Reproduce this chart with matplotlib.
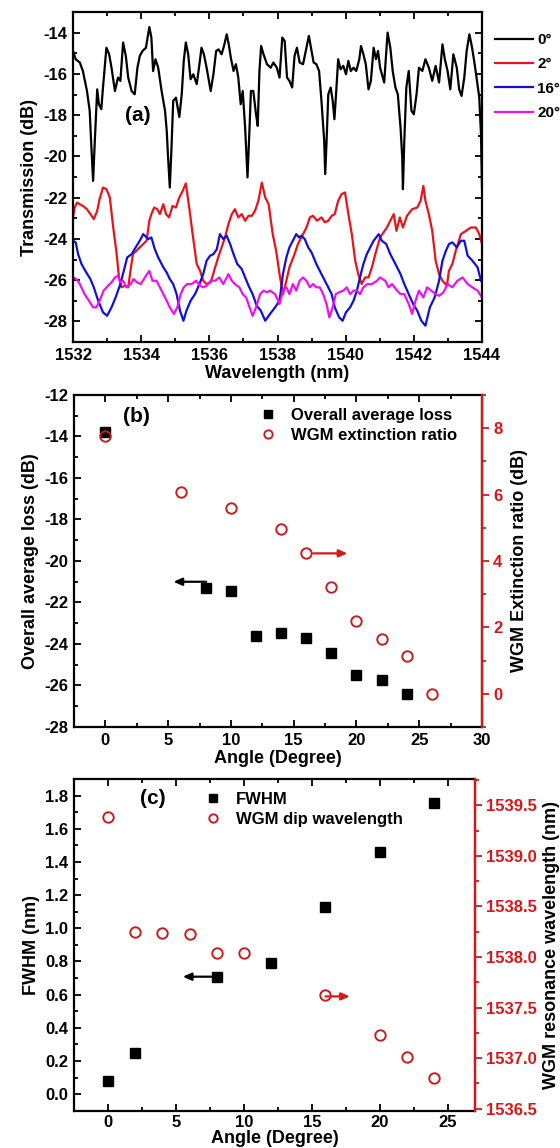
import matplotlib
matplotlib.use("Agg")
import matplotlib.pyplot as plt
from matplotlib.ticker import MultipleLocator

plt.rcParams['font.family'] = ['Liberation Sans', 'DejaVu Sans']
plt.rcParams['font.weight'] = 'bold'
plt.rcParams['axes.labelweight'] = 'bold'
plt.rcParams['axes.unicode_minus'] = False

RED = '#d81818'
CIRC = '#c41e1e'

# ---------------- (a) transmission spectra ----------------
wl_0 = [1532.00, 1532.08, 1532.20, 1532.29, 1532.41, 1532.49, 1532.54, 1532.59, 1532.64, 1532.71,
        1532.76, 1532.83, 1532.88, 1532.98, 1533.06, 1533.13, 1533.23, 1533.32, 1533.39, 1533.47,
        1533.55, 1533.62, 1533.72, 1533.81, 1533.89, 1533.96, 1534.04, 1534.14, 1534.24, 1534.30,
        1534.35, 1534.42, 1534.50, 1534.60, 1534.70, 1534.75, 1534.79, 1534.84, 1534.89, 1534.94,
        1535.02, 1535.12, 1535.19, 1535.25, 1535.31, 1535.38, 1535.45, 1535.53, 1535.63, 1535.71,
        1535.77, 1535.84, 1535.92, 1536.04, 1536.12, 1536.20, 1536.27, 1536.36, 1536.43, 1536.51,
        1536.57, 1536.63, 1536.71, 1536.78, 1536.85, 1536.92, 1536.98, 1537.05, 1537.12, 1537.18,
        1537.22, 1537.29, 1537.37, 1537.42, 1537.47, 1537.52, 1537.59, 1537.69, 1537.80, 1537.88,
        1537.98, 1538.06, 1538.14, 1538.21, 1538.28, 1538.35, 1538.43, 1538.50, 1538.57, 1538.65,
        1538.75, 1538.85, 1538.92, 1539.00, 1539.06, 1539.14, 1539.22, 1539.29, 1539.37, 1539.40,
        1539.44, 1539.49, 1539.56, 1539.62, 1539.67, 1539.73, 1539.78, 1539.85, 1539.93, 1540.01,
        1540.08, 1540.15, 1540.23, 1540.31, 1540.40, 1540.45, 1540.52, 1540.59, 1540.67, 1540.74,
        1540.82, 1540.89, 1540.95, 1541.01, 1541.13, 1541.23, 1541.31, 1541.38, 1541.46, 1541.53,
        1541.61, 1541.66, 1541.68, 1541.72, 1541.78, 1541.85, 1541.93, 1542.00, 1542.08, 1542.15,
        1542.25, 1542.34, 1542.44, 1542.54, 1542.64, 1542.74, 1542.84, 1542.91, 1542.99, 1543.07,
        1543.16, 1543.26, 1543.33, 1543.40, 1543.48, 1543.55, 1543.63, 1543.70, 1543.77, 1543.84,
        1543.92, 1543.97, 1544.00]
tr_0 = [-14.89, -15.29, -15.45, -15.86, -16.83, -17.79, -19.57, -21.19, -19.25, -16.75,
        -17.47, -17.71, -16.66, -14.73, -15.05, -15.70, -16.83, -16.18, -16.34, -14.48,
        -15.13, -16.18, -16.83, -16.99, -15.70, -15.13, -14.89, -14.73, -13.73, -14.24,
        -15.86, -15.29, -15.70, -16.83, -17.79, -18.76, -20.06, -21.51, -19.57, -17.31,
        -17.15, -18.09, -16.99, -15.37, -14.48, -15.05, -16.26, -16.02, -16.50, -15.53,
        -14.73, -15.05, -15.70, -16.83, -16.02, -14.89, -14.81, -15.05, -14.65, -14.08,
        -14.57, -15.21, -15.86, -15.53, -16.18, -17.47, -16.83, -18.60, -21.02, -18.60,
        -16.83, -16.83, -17.96, -18.52, -15.86, -14.65, -15.05, -15.53, -15.70, -15.45,
        -15.70, -16.18, -14.24, -14.40, -16.18, -16.34, -16.66, -15.13, -14.73, -15.45,
        -15.53, -14.73, -14.16, -14.89, -15.45, -15.53, -15.86, -17.31, -19.25, -20.86,
        -19.25, -16.99, -16.66, -17.31, -18.20, -16.66, -15.29, -15.78, -15.61, -16.02,
        -15.37, -15.86, -15.70, -15.86, -15.29, -14.65, -15.05, -15.53, -16.75, -16.34,
        -14.73, -15.29, -14.89, -15.70, -16.42, -14.00, -14.73, -15.86, -16.66, -16.99,
        -18.60, -20.06, -21.59, -19.25, -16.66, -15.86, -17.79, -17.96, -16.99, -15.70,
        -15.86, -15.29, -15.70, -16.34, -15.61, -16.42, -14.57, -15.29, -15.86, -16.75,
        -15.05, -15.70, -16.75, -17.07, -16.18, -14.89, -14.08, -14.65, -15.37, -16.18,
        -17.15, -18.92, -21.51]

wl_2 = [1532.00, 1532.05, 1532.12, 1532.20, 1532.29, 1532.41, 1532.51, 1532.61, 1532.71, 1532.78,
        1532.88, 1532.98, 1533.08, 1533.18, 1533.27, 1533.35, 1533.42, 1533.52, 1533.62, 1533.70,
        1533.76, 1533.86, 1533.96, 1534.06, 1534.16, 1534.24, 1534.30, 1534.38, 1534.47, 1534.55,
        1534.65, 1534.73, 1534.82, 1534.92, 1535.02, 1535.12, 1535.22, 1535.31, 1535.41, 1535.51,
        1535.63, 1535.73, 1535.82, 1535.92, 1536.04, 1536.17, 1536.26, 1536.36, 1536.46, 1536.56,
        1536.66, 1536.75, 1536.85, 1536.95, 1537.05, 1537.15, 1537.25, 1537.34, 1537.44, 1537.54,
        1537.64, 1537.74, 1537.86, 1537.96, 1538.06, 1538.16, 1538.26, 1538.35, 1538.50, 1538.60,
        1538.75, 1538.85, 1538.95, 1539.04, 1539.16, 1539.29, 1539.39, 1539.49, 1539.59, 1539.68,
        1539.78, 1539.88, 1539.98, 1540.08, 1540.18, 1540.28, 1540.37, 1540.47, 1540.57, 1540.67,
        1540.77, 1540.87, 1541.01, 1541.11, 1541.21, 1541.31, 1541.41, 1541.49, 1541.59, 1541.68,
        1541.80, 1541.95, 1542.10, 1542.20, 1542.28, 1542.34, 1542.44, 1542.54, 1542.64, 1542.74,
        1542.84, 1542.97, 1543.03, 1543.13, 1543.23, 1543.38, 1543.53, 1543.67, 1543.82, 1543.92,
        1544.00]
tr_2 = [-22.96, -22.48, -22.24, -22.32, -22.40, -22.56, -22.80, -23.04, -22.64, -22.07,
        -21.51, -21.59, -21.99, -23.45, -24.58, -25.87, -26.35, -26.27, -26.35, -25.38,
        -24.74, -24.58, -24.41, -24.25, -24.09, -23.12, -22.80, -22.48, -22.56, -22.80,
        -22.32, -22.80, -22.96, -22.40, -22.48, -21.99, -21.67, -21.31, -22.48, -23.77,
        -25.22, -25.55, -26.03, -26.19, -26.11, -25.38, -24.90, -24.41, -23.93, -23.28,
        -22.80, -22.56, -22.96, -22.80, -23.12, -22.88, -22.88, -22.64, -22.15, -21.27,
        -21.99, -22.32, -23.77, -24.58, -25.71, -26.68, -26.03, -25.38, -24.74, -24.25,
        -23.77, -23.45, -22.96, -22.88, -23.12, -22.96, -23.20, -23.12, -22.88, -22.80,
        -22.15, -21.83, -21.75, -22.80, -23.77, -25.06, -25.71, -26.19, -25.87, -25.87,
        -25.38, -24.74, -23.93, -23.69, -23.45, -23.12, -22.80, -23.61, -22.96, -23.45,
        -22.88, -22.56, -22.48, -22.15, -21.43, -22.15, -22.80, -23.61, -25.06, -25.71,
        -26.03, -26.27, -25.55, -25.22, -24.58, -23.77, -23.61, -23.45, -23.45, -23.77,
        -24.25]

wl_16 = [1532.00, 1532.08, 1532.15, 1532.25, 1532.39, 1532.51, 1532.61, 1532.74, 1532.88, 1533.00,
         1533.13, 1533.25, 1533.39, 1533.49, 1533.59, 1533.72, 1533.84, 1533.96, 1534.06, 1534.21,
         1534.30, 1534.40, 1534.50, 1534.65, 1534.75, 1534.84, 1534.94, 1535.04, 1535.14, 1535.24,
         1535.33, 1535.45, 1535.58, 1535.71, 1535.82, 1535.92, 1536.02, 1536.12, 1536.22, 1536.31,
         1536.41, 1536.51, 1536.61, 1536.71, 1536.82, 1536.95, 1537.05, 1537.15, 1537.27, 1537.39,
         1537.51, 1537.64, 1537.78, 1537.93, 1538.06, 1538.16, 1538.26, 1538.35, 1538.45, 1538.55,
         1538.63, 1538.70, 1538.80, 1538.90, 1539.00, 1539.14, 1539.29, 1539.44, 1539.59, 1539.68,
         1539.81, 1539.91, 1540.01, 1540.13, 1540.23, 1540.33, 1540.42, 1540.52, 1540.62, 1540.72,
         1540.82, 1540.97, 1541.06, 1541.19, 1541.31, 1541.46, 1541.61, 1541.72, 1541.85, 1541.98,
         1542.10, 1542.22, 1542.34, 1542.47, 1542.61, 1542.74, 1542.84, 1542.94, 1543.03, 1543.13,
         1543.26, 1543.38, 1543.48, 1543.58, 1543.72, 1543.87, 1543.97]
tr_16 = [-24.09, -24.17, -24.74, -25.22, -25.63, -25.95, -26.35, -27.00, -27.56, -27.73,
         -27.32, -26.84, -26.19, -25.55, -24.90, -24.74, -24.41, -24.09, -23.77, -24.01,
         -23.93, -24.50, -24.90, -25.38, -25.63, -25.95, -26.19, -26.68, -27.48, -27.97,
         -27.48, -27.00, -26.68, -26.19, -25.71, -25.06, -24.82, -24.74, -24.50, -23.77,
         -24.01, -23.85, -24.25, -24.74, -25.22, -25.46, -25.87, -26.27, -26.68, -27.24,
         -27.48, -27.97, -27.64, -27.32, -27.00, -25.71, -24.90, -24.41, -24.09, -23.77,
         -23.93, -23.85, -24.01, -24.41, -24.66, -25.22, -25.71, -26.19, -26.68, -27.32,
         -27.81, -27.97, -27.56, -27.32, -27.00, -26.51, -25.87, -25.22, -24.74, -24.41,
         -24.09, -23.77, -24.09, -24.25, -24.74, -25.22, -25.71, -26.19, -26.68, -27.16,
         -27.48, -27.97, -28.21, -27.32, -26.84, -26.03, -25.06, -24.58, -24.25, -24.17,
         -24.41, -24.09, -24.09, -24.82, -25.06, -25.38, -26.03]

wl_20 = [1532.00, 1532.10, 1532.20, 1532.34, 1532.47, 1532.59, 1532.69, 1532.78, 1532.90, 1533.03,
         1533.13, 1533.23, 1533.32, 1533.39, 1533.47, 1533.57, 1533.69, 1533.78, 1533.88, 1533.99,
         1534.11, 1534.24, 1534.33, 1534.45, 1534.55, 1534.65, 1534.75, 1534.84, 1534.96, 1535.06,
         1535.16, 1535.25, 1535.35, 1535.48, 1535.61, 1535.73, 1535.82, 1535.92, 1536.04, 1536.17,
         1536.29, 1536.41, 1536.56, 1536.66, 1536.75, 1536.88, 1536.98, 1537.08, 1537.18, 1537.27,
         1537.37, 1537.49, 1537.59, 1537.69, 1537.78, 1537.93, 1538.06, 1538.16, 1538.26, 1538.35,
         1538.45, 1538.55, 1538.65, 1538.75, 1538.85, 1538.95, 1539.04, 1539.14, 1539.24, 1539.34,
         1539.44, 1539.52, 1539.62, 1539.71, 1539.81, 1539.93, 1540.03, 1540.13, 1540.23, 1540.33,
         1540.42, 1540.52, 1540.64, 1540.77, 1540.92, 1541.01, 1541.16, 1541.26, 1541.36, 1541.51,
         1541.61, 1541.72, 1541.85, 1541.95, 1542.05, 1542.15, 1542.28, 1542.39, 1542.51, 1542.64,
         1542.74, 1542.87, 1542.99, 1543.13, 1543.28, 1543.43, 1543.58, 1543.72, 1543.87, 1544.00]
tr_20 = [-25.87, -25.95, -26.19, -26.68, -27.00, -27.32, -27.32, -27.00, -26.51, -26.27,
         -26.11, -25.87, -25.79, -26.11, -26.03, -26.35, -26.19, -25.95, -26.11, -26.19,
         -25.87, -25.55, -26.03, -26.03, -26.35, -26.68, -27.00, -27.32, -27.64, -27.32,
         -26.68, -26.35, -26.19, -26.19, -26.03, -26.27, -26.35, -26.27, -26.03, -26.03,
         -25.87, -26.19, -25.71, -26.03, -26.19, -26.35, -26.68, -26.84, -27.32, -27.73,
         -27.32, -26.68, -26.51, -26.59, -26.51, -26.68, -27.16, -26.51, -26.35, -26.68,
         -26.19, -26.51, -26.03, -25.87, -26.03, -26.35, -26.19, -26.35, -26.35, -26.68,
         -27.16, -27.81, -27.32, -26.68, -26.59, -26.51, -26.35, -26.68, -26.51, -26.51,
         -26.68, -26.35, -26.19, -26.19, -26.03, -25.87, -26.03, -26.35, -26.19, -26.51,
         -26.68, -26.68, -27.16, -27.64, -27.00, -26.51, -26.84, -26.35, -26.51, -26.68,
         -26.76, -26.59, -26.19, -26.35, -26.03, -25.87, -26.19, -26.35, -26.51, -26.84]

spectra = [(wl_0, tr_0, 'black', '0°'), (wl_2, tr_2, '#e8141c', '2°'),
           (wl_16, tr_16, '#1010d8', '16°'), (wl_20, tr_20, '#ee10ee', '20°')]

# ---------------- (b) loss and extinction ratio vs angle ----------------
ang_loss = [0, 8, 10, 12, 14, 16, 18, 20, 22, 24]
avg_loss = [-13.77, -21.32, -21.43, -23.61, -23.45, -23.73, -24.45, -25.49, -25.73, -26.41]
ang_er = [0, 6, 10, 14, 16, 18, 20, 22, 24, 26]
ext_ratio = [7.75, 6.07, 5.60, 4.97, 4.25, 3.21, 2.18, 1.64, 1.15, 0.0]

# ---------------- (c) FWHM and dip wavelength vs angle ----------------
ang_fwhm = [0, 2, 8, 12, 16, 20, 24]
fwhm = [0.081, 0.246, 0.708, 0.790, 1.129, 1.460, 1.755]
ang_dip = [0, 2, 4, 6, 8, 10, 16, 20, 22, 24]
dip_wl = [1539.38, 1538.25, 1538.24, 1538.23, 1538.04, 1538.04, 1537.62, 1537.23, 1537.01, 1536.80]

W, H = 560, 1148
fig = plt.figure(figsize=(W / 100, H / 100), dpi=100)


def frac(left, top, right, bottom):
    return [left / W, 1 - bottom / H, (right - left) / W, (bottom - top) / H]


TICK_FS = 12
LAB_FS = 13


def style_primary(ax, right=True):
    for s in ax.spines.values():
        s.set_linewidth(1.6)
    ax.tick_params(which='both', direction='in', top=True, right=right,
                   labelsize=TICK_FS, width=1.3, pad=4)
    ax.tick_params(which='major', length=5)
    ax.tick_params(which='minor', length=3)
    for lab in ax.get_xticklabels() + ax.get_yticklabels():
        lab.set_fontweight('bold')


def style_twin(ax2):
    for name, s in ax2.spines.items():
        if name == 'right':
            s.set_color(RED)
            s.set_linewidth(1.6)
        else:
            s.set_visible(False)
    ax2.tick_params(which='both', direction='out', colors=RED, labelsize=TICK_FS,
                    width=1.3, pad=3)
    ax2.tick_params(which='major', length=5)
    ax2.tick_params(which='minor', length=3)
    for lab in ax2.get_yticklabels():
        lab.set_fontweight('bold')


ARROW = '-|>,head_length=0.5,head_width=0.22'

# ---- panel (a)
axa = fig.add_axes(frac(73, 12, 482, 342))
for wl, tr, col, lab in spectra:
    axa.plot(wl, tr, color=col, lw=1.6, label=lab)
axa.set_xlim(1532, 1544)
axa.set_ylim(-29, -13)
axa.xaxis.set_major_locator(MultipleLocator(2))
axa.xaxis.set_minor_locator(MultipleLocator(1))
axa.yaxis.set_major_locator(MultipleLocator(2))
axa.yaxis.set_minor_locator(MultipleLocator(1))
style_primary(axa)
axa.set_xlabel('Wavelength (nm)', fontsize=LAB_FS, labelpad=2)
axa.set_ylabel('Transmission (dB)', fontsize=LAB_FS, labelpad=4)
axa.text(1533.9, -18.0, '(a)', fontsize=15, fontweight='bold', ha='center', va='center')
axa.legend(loc='upper left', bbox_to_anchor=(495 / W, 1 - 33 / H), bbox_transform=fig.transFigure,
           frameon=False, handlelength=2.5, handletextpad=0.25,
           labelspacing=0.68, borderpad=0, borderaxespad=0, prop={'weight': 'bold', 'size': 11})

# ---- panel (b)
axb = fig.add_axes(frac(74, 395, 482, 727))
axb2 = axb.twinx()
axb.plot(ang_loss, avg_loss, 's', color='black', ms=7, label='Overall average loss', zorder=3)
axb2.plot(ang_er, ext_ratio, 'o', mfc='none', mec=CIRC, mew=1.4, ms=7.5,
          label='WGM extinction ratio', zorder=3)
axb.set_xlim(-2.5, 30)
axb.set_ylim(-28, -12)
axb2.set_ylim(-1, 9)
axb.xaxis.set_major_locator(MultipleLocator(5))
axb.xaxis.set_minor_locator(MultipleLocator(2.5))
axb.yaxis.set_major_locator(MultipleLocator(2))
axb.yaxis.set_minor_locator(MultipleLocator(1))
axb2.yaxis.set_major_locator(MultipleLocator(2))
axb2.yaxis.set_minor_locator(MultipleLocator(1))
style_primary(axb, right=False)
style_twin(axb2)
axb.set_xlabel('Angle (Degree)', fontsize=LAB_FS, labelpad=2)
axb.set_ylabel('Overall average loss (dB)', fontsize=LAB_FS, labelpad=4)
axb2.set_ylabel('WGM Extinction ratio (dB)', fontsize=LAB_FS, labelpad=6, color='black')
axb.text(2.5, -13.05, '(b)', fontsize=15, fontweight='bold', ha='center', va='center')
axb.annotate('', xy=(5.2, -21.0), xytext=(8.25, -21.0),
             arrowprops=dict(arrowstyle=ARROW, color='black', lw=1.6))
axb2.annotate('', xy=(19.5, 4.23), xytext=(16.35, 4.23),
              arrowprops=dict(arrowstyle=ARROW, color=RED, lw=1.6))
hb = [axb.lines[0], axb2.lines[0]]
axb.legend(hb, [h.get_label() for h in hb], loc='upper left', bbox_to_anchor=(0.455, 0.962),
           frameon=False, handlelength=1.0, handletextpad=0.9, labelspacing=0.32,
           borderpad=0, borderaxespad=0, markerscale=0.8, prop={'weight': 'bold', 'size': 12})

# ---- panel (c)
axc = fig.add_axes(frac(74, 779, 475, 1110.7))
axc2 = axc.twinx()
axc.plot(ang_fwhm, fwhm, 's', color='black', ms=7, label='FWHM', zorder=3)
axc2.plot(ang_dip, dip_wl, 'o', mfc='none', mec=CIRC, mew=1.4, ms=7.5,
          label='WGM dip wavelength', zorder=3)
axc.set_xlim(-2.5, 27)
axc.set_ylim(-0.1, 1.9)
axc2.set_ylim(1536.48, 1539.76)
axc.xaxis.set_major_locator(MultipleLocator(5))
axc.xaxis.set_minor_locator(MultipleLocator(2.5))
axc.yaxis.set_major_locator(MultipleLocator(0.2))
axc.yaxis.set_minor_locator(MultipleLocator(0.1))
axc2.yaxis.set_major_locator(MultipleLocator(0.5))
axc2.yaxis.set_minor_locator(MultipleLocator(0.25))
axc.yaxis.set_major_formatter(plt.FormatStrFormatter('%.1f'))
axc2.yaxis.set_major_formatter(plt.FormatStrFormatter('%.1f'))
style_primary(axc, right=False)
style_twin(axc2)
axc.tick_params(axis='x', pad=3)
axc.set_xlabel('Angle (Degree)', fontsize=LAB_FS, labelpad=0)
axc.set_ylabel('FWHM (nm)', fontsize=LAB_FS, labelpad=4)
axc2.set_ylabel('WGM resonance wavelength (nm)', fontsize=LAB_FS, labelpad=4, color='black')
axc.text(3.3, 1.78, '(c)', fontsize=15, fontweight='bold', ha='center', va='center')
axc.annotate('', xy=(5.3, 0.708), xytext=(7.8, 0.708),
             arrowprops=dict(arrowstyle=ARROW, color='black', lw=1.6))
axc2.annotate('', xy=(18.0, 1537.61), xytext=(15.8, 1537.61),
              arrowprops=dict(arrowstyle=ARROW, color=RED, lw=1.6))
hc = [axc.lines[0], axc2.lines[0]]
axc.legend(hc, [h.get_label() for h in hc], loc='upper left', bbox_to_anchor=(0.325, 0.962),
           frameon=False, handlelength=1.0, handletextpad=0.9, labelspacing=0.32,
           borderpad=0, borderaxespad=0, markerscale=0.8, prop={'weight': 'bold', 'size': 12})

fig.savefig('out.png', dpi=100)
